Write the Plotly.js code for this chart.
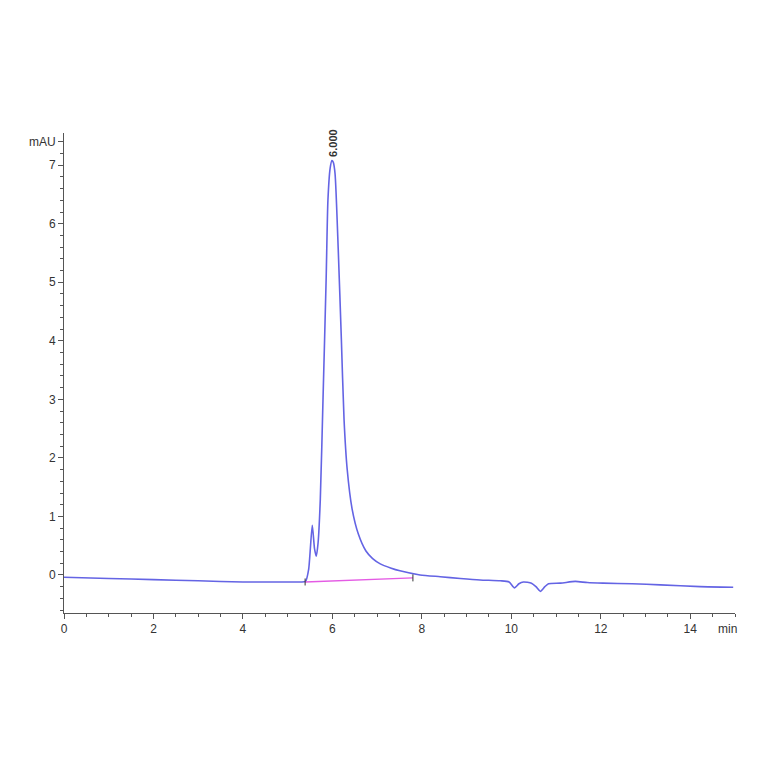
<!DOCTYPE html>
<html>
<head>
<meta charset="utf-8">
<script src="https://cdn.plot.ly/plotly-3.0.1.min.js"></script>
<style>
  html, body { margin: 0; padding: 0; background: #fff; }
  #chart { width: 764px; height: 764px; }
</style>
</head>
<body>
<div id="chart"></div>
<script>
// chromatogram trace (min, mAU)
var timeMin = [0, 1, 2, 3, 4, 5, 5.3, 5.4, 5.47, 5.55, 5.6, 5.64, 5.68, 5.73, 5.79, 5.86, 5.9, 5.95, 5.99, 6.02, 6.06, 6.13, 6.2, 6.26, 6.33, 6.44, 6.58, 6.75, 6.9, 7.07, 7.3, 7.51, 7.96, 8.41, 8.86, 9.3, 9.75, 9.95, 10.07, 10.17, 10.27, 10.45, 10.55, 10.65, 10.75, 10.83, 11.1, 11.43, 11.7, 12.05, 12.7, 13.33, 14.22, 14.96];
var signal = [-0.04, -0.06, -0.08, -0.1, -0.12, -0.12, -0.12, -0.11, 0.1, 0.85, 0.45, 0.32, 0.55, 1.3, 3.0, 5.05, 6.4, 6.95, 7.08, 7.05, 6.85, 5.57, 4.03, 2.66, 1.81, 1.13, 0.7, 0.41, 0.28, 0.19, 0.12, 0.07, 0.0, -0.03, -0.06, -0.085, -0.1, -0.12, -0.22, -0.15, -0.12, -0.14, -0.2, -0.28, -0.2, -0.15, -0.14, -0.11, -0.13, -0.14, -0.15, -0.17, -0.2, -0.21];

// integration baseline
var baseX = [5.39, 7.8];
var baseY = [-0.12, -0.05];

// peak label
var peakTime = 6.0;
var peakHeight = 7.08;
var peakLabel = '6.000';

var xTicks = [0, 2, 4, 6, 8, 10, 12, 14];
var yTickVals = [0, 1, 2, 3, 4, 5, 6, 7, 7.4];
var yTickText = ['0', '1', '2', '3', '4', '5', '6', '7', 'mAU'];

var trace = {
    x: timeMin,
    y: signal,
    type: 'scatter',
    mode: 'lines',
    line: {color: '#6464e4', width: 1.6, shape: 'spline', smoothing: 0.6},
    hoverinfo: 'skip'
};

var baseline = {
    x: baseX,
    y: baseY,
    type: 'scatter',
    mode: 'lines+markers',
    line: {color: '#e45be4', width: 1.3},
    marker: {symbol: 'line-ns', size: 5, line: {color: '#333', width: 1}},
    hoverinfo: 'skip'
};

var axisFont = {family: 'Liberation Sans, Arial, sans-serif', size: 12, color: '#333'};

var layout = {
    width: 764,
    height: 764,
    margin: {l: 64, r: 29, t: 133, b: 151},
    paper_bgcolor: '#fff',
    plot_bgcolor: '#fff',
    showlegend: false,
    font: axisFont,
    xaxis: {
        range: [0, 15],
        tickvals: xTicks,
        ticks: 'outside',
        ticklen: 5,
        tickcolor: '#555',
        showline: true,
        linecolor: '#555',
        linewidth: 1,
        showgrid: false,
        zeroline: false,
        tickfont: axisFont,
        minor: {dtick: 0.5, ticks: 'outside', ticklen: 3, tickcolor: '#555', showgrid: false}
    },
    yaxis: {
        range: [-0.65, 7.55],
        tickvals: yTickVals,
        ticktext: yTickText,
        ticks: 'outside',
        ticklen: 5,
        tickcolor: '#555',
        showline: true,
        linecolor: '#555',
        linewidth: 1,
        showgrid: false,
        zeroline: false,
        tickfont: axisFont,
        minor: {dtick: 0.2, ticks: 'outside', ticklen: 3, tickcolor: '#555', showgrid: false}
    },
    annotations: [
        {
            x: peakTime, y: peakHeight, xref: 'x', yref: 'y',
            text: '<b>' + peakLabel + '</b>', showarrow: false, textangle: -90,
            yanchor: 'bottom', yshift: 2,
            font: {family: 'Liberation Sans, Arial, sans-serif', size: 11, color: '#333'}
        },
        {
            x: 14.83, y: 0, xref: 'x', yref: 'paper',
            text: 'min', showarrow: false, yanchor: 'top', yshift: -7,
            font: axisFont
        }
    ]
};

Plotly.newPlot('chart', [trace, baseline], layout, {displayModeBar: false, staticPlot: true});
</script>
</body>
</html>
